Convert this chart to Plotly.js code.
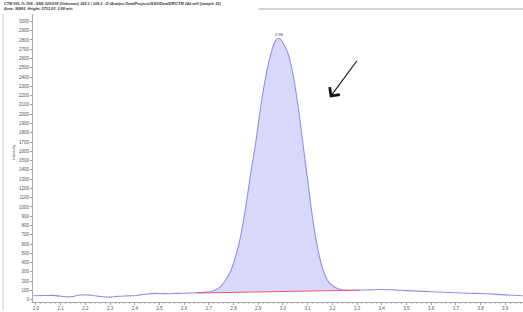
<!DOCTYPE html>
<html><head><meta charset="utf-8">
<script src="https://cdn.plot.ly/plotly-3.0.1.min.js"></script>
<style>html,body{margin:0;padding:0;background:#fff}#c{width:523px;height:312px}</style>
</head><body><div id="c"></div>
<script>
const timeMin = [1.99,2.03,2.07,2.10,2.13,2.15,2.18,2.21,2.24,2.27,2.30,2.33,2.36,2.39,2.42,2.45,2.48,2.51,2.54,2.57,2.60,2.63,2.66,2.69,2.71,2.73,2.75,2.77,2.79,2.81,2.83,2.85,2.87,2.89,2.91,2.93,2.95,2.97,2.985,3.00,3.02,3.04,3.06,3.08,3.10,3.12,3.14,3.16,3.18,3.20,3.23,3.26,3.30,3.35,3.40,3.45,3.50,3.55,3.60,3.65,3.70,3.75,3.80,3.85,3.90,3.97];
const intensity = [42,45,46,38,30,35,50,52,42,32,28,36,40,42,52,62,68,66,64,68,70,72,76,82,88,110,150,220,320,480,700,1010,1370,1700,2080,2400,2640,2790,2819,2770,2660,2440,2110,1700,1290,880,560,340,210,150,112,100,102,106,110,106,98,92,86,80,75,70,66,60,52,42];
const baselineX = [2.655, 3.31];
const baselineY = [72, 103];
const peakTime = 2.985, peakHeight = 2819, peakLabel = "2.98";
const xTickVals = [2.0,2.1,2.2,2.3,2.4,2.5,2.6,2.7,2.8,2.9,3.0,3.1,3.2,3.3,3.4,3.5,3.6,3.7,3.8,3.9];
const titleLine1 = "CTM 001-7c 008 - SM2 320/108 (Unknown) 320.1 / 108.2 - D:\\Analyst Data\\Projects\\SSX\\Data\\DR\\CTM 14d.wiff (sample 33)";
const titleLine2 = "Area: 36893, Height: 2731.00, 2.98 min";

const fx = [baselineX[0]], fy = [baselineY[0]];
timeMin.forEach((t,i)=>{ if(t>baselineX[0] && t<baselineX[1]){ fx.push(t); fy.push(intensity[i]); } });
fx.push(baselineX[1]); fy.push(baselineY[1]);
fx.push(baselineX[0]); fy.push(baselineY[0]);

const traces = [
  {x: fx, y: fy, mode:'lines', fill:'toself', fillcolor:'rgba(214,214,250,0.95)', line:{width:0}, hoverinfo:'skip'},
  {x: timeMin, y: intensity, mode:'lines', line:{color:'#8e8ef2', width:1.1, shape:'spline'}},
  {x: baselineX, y: baselineY, mode:'lines', line:{color:'#f05a6a', width:1}}
];
const tf = {family:'Liberation Sans, Arial, sans-serif', size:4.5, color:'#555'};
const layout = {
  width:523, height:312, showlegend:false,
  paper_bgcolor:'#fff', plot_bgcolor:'#fff',
  margin:{l:33, r:0, t:14, b:10},
  xaxis:{range:[1.988,3.972], tickvals:xTickVals, ticktext:xTickVals.map(v=>v.toFixed(1)),
    showgrid:false, zeroline:false, showline:true, linecolor:'#aaa', linewidth:1,
    ticks:'outside', ticklen:2, tickcolor:'#999', tickfont:tf,
    minor:{dtick:0.02, ticks:'outside', ticklen:1, tickcolor:'#bbb'}},
  yaxis:{range:[-25,3080], dtick:100, tick0:0, showgrid:false, zeroline:false,
    showline:true, linecolor:'#aaa', linewidth:1, ticks:'outside', ticklen:2, tickcolor:'#999',
    tickfont:tf},
  annotations:[
    {xref:'x', yref:'y', x:peakTime, y:peakHeight, text:peakLabel, showarrow:false, yshift:4,
     font:{family:'Liberation Sans, Arial, sans-serif', size:4, color:'#333'}},
    {xref:'x', yref:'y', x:3.19, y:2180, ax:28, ay:-38, text:'', showarrow:true,
     arrowhead:4, arrowsize:2.2, arrowwidth:1.1, arrowcolor:'#111'},
    {xref:'paper', yref:'paper', x:-0.049, y:0.52, text:'Intensity', textangle:-90, showarrow:false,
     font:{family:'Liberation Sans, Arial, sans-serif', size:4, color:'#555'}},
    {xref:'paper', yref:'paper', x:-0.065, y:1.048, xanchor:'left', yanchor:'top', align:'left',
     text:'<b><i>'+titleLine1+'<br>'+titleLine2+'</i></b>', showarrow:false,
     font:{family:'Liberation Sans, Arial, sans-serif', size:3.8, color:'#333'}}
  ],
  shapes:[
    {type:'line', xref:'paper', yref:'paper', x0:-0.061, x1:-0.061, y0:1.0, y1:-0.03, line:{color:'#ccc', width:1}},
    {type:'line', xref:'paper', yref:'paper', x0:0.46, x1:1.0, y0:1.017, y1:1.017, line:{color:'#c4c4c4', width:1.5}}
  ]
};
Plotly.newPlot('c', traces, layout, {displayModeBar:false, staticPlot:true});
</script></body></html>
